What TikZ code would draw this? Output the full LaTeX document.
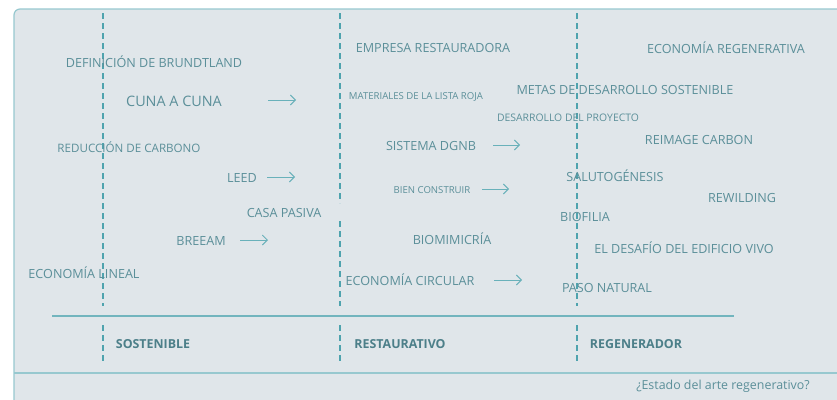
\documentclass[tikz,border=0pt]{standalone}
\usepackage{fontspec}
\setmainfont{Open Sans}
\usetikzlibrary{arrows.meta}
\definecolor{panel}{HTML}{E0E6EA}
\definecolor{rim}{HTML}{97C8CF}
\definecolor{teal}{HTML}{4FA3AE}
\definecolor{ink}{HTML}{5B8F99}
\definecolor{inkdark}{HTML}{4C7F89}

\begin{document}
\begin{tikzpicture}[x=1pt,y=-1pt]
\tikzstyle{every node}=[text=ink,font=\fontsize{12.6}{14}\selectfont,inner sep=0pt];
\tikzstyle{small}=[font=\fontsize{9.6}{11}\selectfont];
\tikzstyle{mid}=[font=\fontsize{10.4}{12}\selectfont];
\tikzstyle{phase}=[text=inkdark,font=\fontsize{12.4}{14}\selectfont\bfseries];
\tikzstyle{divider}=[teal,line width=2.2pt,dash pattern=on 6pt off 4pt];
\tikzstyle{nextstep}=[teal!85,line width=0.9pt,-{Straight Barb[length=5pt,width=10pt]}];
\useasboundingbox (0,0) rectangle (837,399);
\clip (0,0) rectangle (837,399);
% panel
\draw[rim,fill=panel,line width=1.2pt,rounded corners=6pt] (14,9) rectangle (860,420);
\draw[rim,line width=1.2pt] (14,373) -- (860,373);
% columns
\draw[divider] (103,13) -- (103,306);
\draw[divider] (340,13) -- (340,203);
\draw[divider] (340,221) -- (340,306);
\draw[divider] (577,13) -- (577,306);
\draw[divider] (103,325) -- (103,363);
\draw[divider] (340,325) -- (340,363);
\draw[divider] (577,325) -- (577,363);
\draw[teal!80,line width=1.5pt] (52,316) -- (734,316);
% sostenible
\node (brundtland) at (154,62) {DEFINICIÓN DE BRUNDTLAND};
\node[font=\fontsize{14.4}{16}\selectfont] (cuna) at (174,101) {CUNA A CUNA};
\node[font=\fontsize{11.6}{13}\selectfont] (carbono) at (129,147) {REDUCCIÓN DE CARBONO};
\node (leed) at (242,178) {LEED};
\node (pasiva) at (284,213) {CASA PASIVA};
\node (breeam) at (201,241) {BREEAM};
\node (lineal) at (84,273) {ECONOMÍA LINEAL};
% restaurativo
\node (empresa) at (433,48) {EMPRESA RESTAURADORA};
\node[small] (listaroja) at (416,97) {MATERIALES DE LA LISTA ROJA};
\node (dgnb) at (431,146) {SISTEMA DGNB};
\node[small] (construir) at (432,190) {BIEN CONSTRUIR};
\node (biomimicria) at (452,239) {BIOMIMICRÍA};
\node (circular) at (410,280) {ECONOMÍA CIRCULAR};
% regenerador
\node (regenerativa) at (726,48) {ECONOMÍA REGENERATIVA};
\node (metas) at (625,90) {METAS DE DESARROLLO SOSTENIBLE};
\node[mid] (proyecto) at (568,118) {DESARROLLO DEL PROYECTO};
\node (reimage) at (699,140) {REIMAGE CARBON};
\node (saluto) at (615,176) {SALUTOGÉNESIS};
\node (rewilding) at (742,198) {REWILDING};
\node (biofilia) at (585,217) {BIOFILIA};
\node (vivo) at (684,248) {EL DESAFÍO DEL EDIFICIO VIVO};
\node (paso) at (607,288) {PASO NATURAL};
% phases
\node[phase] (sost) at (153,344) {SOSTENIBLE};
\node[phase] (rest) at (400,344) {RESTAURATIVO};
\node[phase] (regen) at (636,344) {REGENERADOR};
\node[font=\fontsize{12.4}{14}\selectfont] (estado) at (723,386) {¿Estado del arte regenerativo?};
% arrows
\coordinate (c1) at (268,100); \coordinate (c2) at (296,100);
\coordinate (l1) at (267,177); \coordinate (l2) at (295,177);
\coordinate (b1) at (240,240); \coordinate (b2) at (268,240);
\coordinate (d1) at (493,145); \coordinate (d2) at (520,145);
\coordinate (k1) at (482,189); \coordinate (k2) at (509,189);
\coordinate (e1) at (494,280); \coordinate (e2) at (522,280);
\draw[nextstep] (c1) -- (c2);
\draw[nextstep] (l1) -- (l2);
\draw[nextstep] (b1) -- (b2);
\draw[nextstep] (d1) -- (d2);
\draw[nextstep] (k1) -- (k2);
\draw[nextstep] (e1) -- (e2);
\end{tikzpicture}
\end{document}
